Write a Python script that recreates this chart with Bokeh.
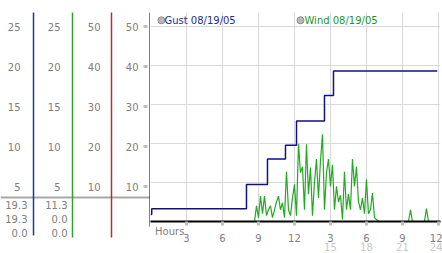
from bokeh.plotting import figure
from bokeh.models import Range1d, FixedTicker, LinearAxis
from bokeh.layouts import row
from bokeh.core.properties import value
from bokeh.embed import file_html
from bokeh.resources import INLINE

FONT = "DejaVu Sans"

# ---------------- data ----------------
half_ticks = [25, 20, 15, 10, 5]          # columns 1 and 2 (half scale)
full_ticks = [50, 40, 30, 20, 10]         # columns 3 and 4 (main scale)
col1_readout = ["19.3", "19.3", "0.0"]
col2_readout = ["11.3", "0.0", "0.0"]

hour_ticks = [3, 6, 9, 12, 15, 18, 21, 24]
hour_labels = ["3", "6", "9", "12", "3", "6", "9", "12"]
day_ticks = [15, 18, 21, 24]
day_labels = ["15", "18", "21", "24"]
axis_title = "Hours"

gust_name = "Gust 08/19/05"
wind_name = "Wind 08/19/05"

gust_hours = [0.0, 0.1, 8.0, 9.75, 11.25, 12.17, 14.5, 15.25, 23.9]
gust_vals = [1.8, 3.25, 9.5, 16.0, 19.5, 25.75, 32.25, 38.5, 38.5]

wind_pre_hours = [0.0]
wind_pre_vals = [0.0]
wind_start_hour = 8.0
wind_step_hour = 1.0 / 6.0
wind_vals = [0, 0, 0, 0, 0, 4, 1, 6.5, 2, 6.5,
             1.5, 3, 4, 1, 3, 5, 6.5, 3, 4.8, 1,
             12.7, 3, 1.5, 6, 9.5, 1.5, 19.8, 12.5, 14, 3,
             19.8, 7, 13.8, 1.5, 10, 16, 6, 15.5, 22.3, 3,
             12.5, 16, 9, 14.5, 3, 9, 5, 6.7, 0.5, 12.7,
             3, 7, 3, 16, 9, 14, 5, 3, 6, 2,
             10.8, 2, 3, 7.3, 1, 0.5, 0]
wind_post_hours = [21.5, 21.67, 21.83, 22.83, 23.0, 23.17, 24.2]
wind_post_vals = [0, 3.0, 0, 0, 3.3, 0, 0]

wind_hours = (wind_pre_hours
              + [wind_start_hour + i * wind_step_hour for i in range(len(wind_vals))]
              + wind_post_hours)
wind_all = wind_pre_vals + wind_vals + wind_post_vals

# ---------------- styles ----------------
GRAY = "#808080"
BLUE = "#1a3c9c"
GREEN = "#2f9f2f"
RED = "#b03030"

# ---------------- left panel ----------------
left = figure(width=150, height=253, x_range=Range1d(0, 150), y_range=Range1d(-6.75, 56.5),
              output_backend="svg", toolbar_location=None,
              x_axis_location=None, y_axis_location=None,
              min_border_left=0, min_border_right=0, min_border_top=0, min_border_bottom=0,
              outline_line_color=None)
left.frame_align = False
left.grid.visible = False
left.extra_y_ranges = {"half": Range1d(-3.375, 28.25)}

txt = dict(text_font=value(FONT), text_font_size="10px", text_color=GRAY,
           text_align="right", text_baseline="middle")

left.text(x=[20] * len(half_ticks), y=half_ticks, text=[str(t) for t in half_ticks],
          y_range_name="half", **txt)
left.text(x=[60] * len(half_ticks), y=half_ticks, text=[str(t) for t in half_ticks],
          y_range_name="half", **txt)
left.text(x=[100] * len(full_ticks), y=full_ticks, text=[str(t) for t in full_ticks], **txt)
left.text(x=[138] * len(full_ticks), y=full_ticks, text=[str(t) for t in full_ticks], **txt)

rows_y = [5.5, 2.0, -1.5]
left.text(x=[27] * 3, y=rows_y, text=col1_readout, **txt)
left.text(x=[67] * 3, y=rows_y, text=col2_readout, **txt)

# separator line
left.segment(x0=[0], y0=[7.25], x1=[150], y1=[7.25], line_color="#a8a8a8", line_width=2)
# column lines
left.segment(x0=[33], y0=[53.5], x1=[33], y1=[-2.25], line_color=BLUE, line_width=1.5)
left.segment(x0=[72], y0=[53.5], x1=[72], y1=[-2.75], line_color=GREEN, line_width=1.5)
left.segment(x0=[111], y0=[53.5], x1=[111], y1=[-2.75], line_color=RED, line_width=1.5)
# main y axis line and its tick marks
left.segment(x0=[150], y0=[0], x1=[150], y1=[53.5], line_color="black", line_width=2)
left.segment(x0=[143] * len(full_ticks), y0=full_ticks, x1=[147] * len(full_ticks), y1=full_ticks,
             line_color="#c0c0c0", line_width=3)

# ---------------- main chart ----------------
p = figure(width=292, height=253, x_range=Range1d(0, 24.17), y_range=Range1d(0, 53.5),
           output_backend="svg", toolbar_location=None, y_axis_location=None,
           min_border_left=0, min_border_right=2, min_border_top=12, min_border_bottom=27,
           outline_line_color=None)
p.frame_align = False

p.xgrid.ticker = FixedTicker(ticks=hour_ticks)
p.ygrid.ticker = FixedTicker(ticks=full_ticks)
p.grid.grid_line_color = "#d9d9d9"
p.grid.grid_line_width = 1

label_style = dict(major_label_text_font=FONT, major_label_text_font_size="10px")

# axis 1: baseline, tick marks and the "Hours" title
ax = p.xaxis[0]
ax.ticker = FixedTicker(ticks=[1.6], minor_ticks=hour_ticks)
ax.major_label_overrides = {1.6: axis_title}
ax.axis_line_color = "black"
ax.axis_line_width = 2
ax.major_tick_in = 0
ax.major_tick_out = 0
ax.major_tick_line_color = None
ax.minor_tick_in = 0
ax.minor_tick_out = 4
ax.minor_tick_line_color = "#c0c0c0"
ax.minor_tick_line_width = 3
ax.major_label_standoff = 0
ax.major_label_text_color = GRAY
ax.major_label_text_font = FONT
ax.major_label_text_font_size = "10px"

# axis 2: hour-of-day labels
ax2 = LinearAxis(ticker=FixedTicker(ticks=hour_ticks),
                 major_label_overrides=dict(zip(hour_ticks, hour_labels)),
                 axis_line_color=None, major_tick_line_color=None, minor_tick_line_color=None,
                 major_tick_in=0, major_tick_out=0, minor_tick_in=0, minor_tick_out=0,
                 major_label_standoff=-6, major_label_text_color=GRAY, **label_style)
p.add_layout(ax2, "below")

# axis 3: elapsed-hour labels
ax3 = LinearAxis(ticker=FixedTicker(ticks=day_ticks),
                 major_label_overrides=dict(zip(day_ticks, day_labels)),
                 axis_line_color=None, major_tick_line_color=None, minor_tick_line_color=None,
                 major_tick_in=0, major_tick_out=0, minor_tick_in=0, minor_tick_out=0,
                 major_label_standoff=-2, major_label_text_color="#c8c8c8", **label_style)
p.add_layout(ax3, "below")

p.line(wind_hours, wind_all, line_color="#22aa22", line_width=1.2)
p.step(gust_hours, gust_vals, mode="after", line_color="#10108a", line_width=1.5)

# legend
p.scatter(x=[0.91, 12.5], y=[51.5, 51.5], size=7, fill_color="#b8b8b8", line_color="#8c8c8c")
p.text(x=[1.16, 12.83], y=[51.5, 51.5], text=[gust_name, wind_name],
       text_color=["#1a2f99", "#1a9a1a"], text_font=value(FONT), text_font_size="10px",
       text_baseline="middle", text_align="left")

layout = row(left, p)
open("out.html", "w").write(file_html(layout, INLINE))
